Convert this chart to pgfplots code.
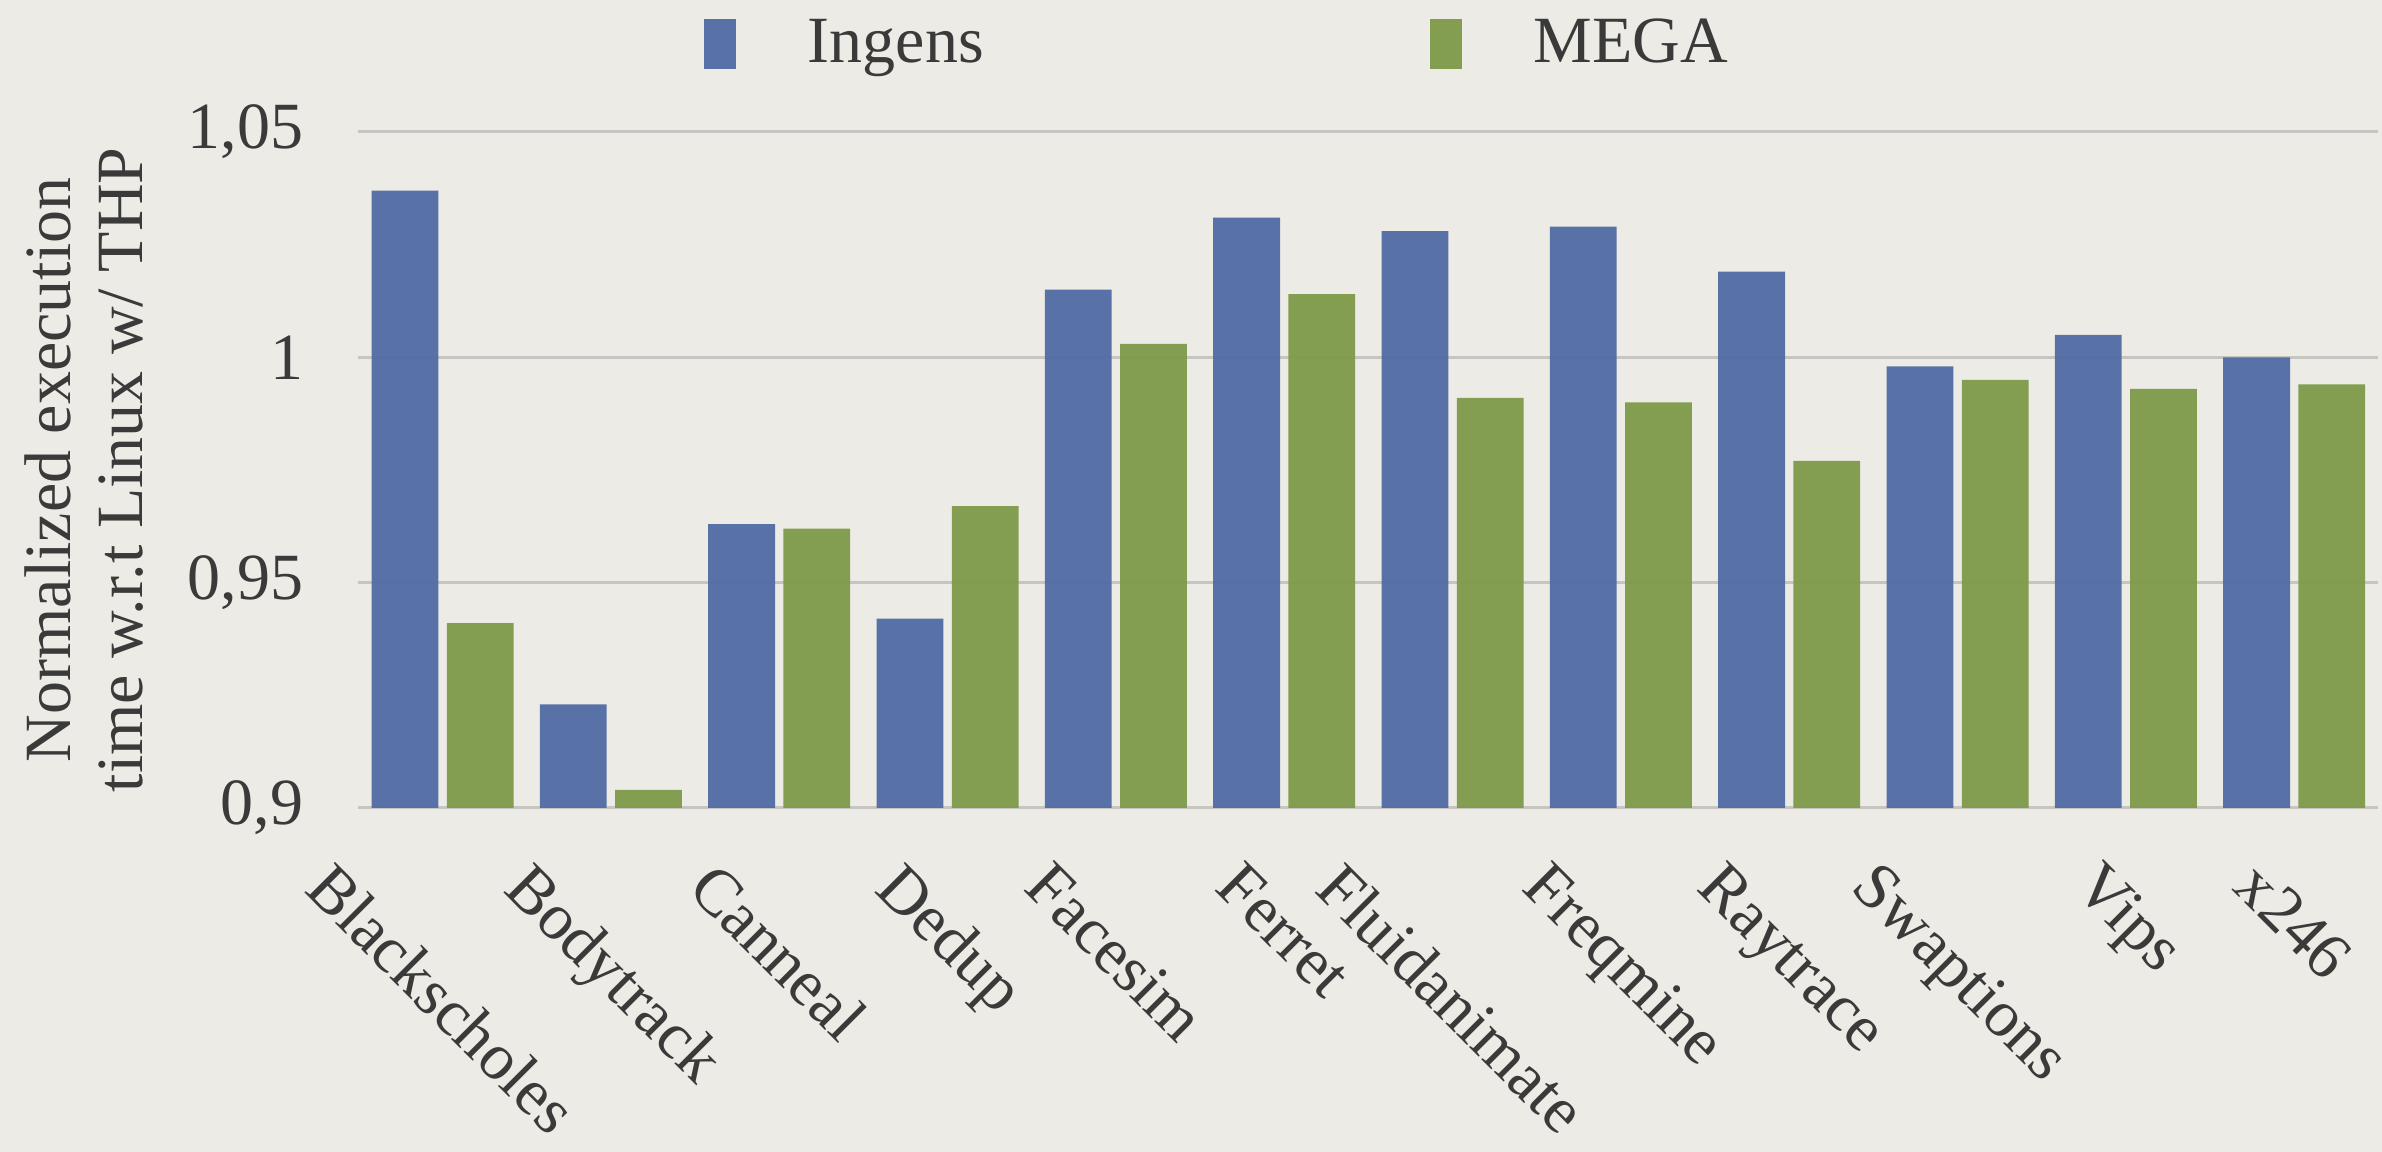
\documentclass[border=0pt]{standalone}
\usepackage{fontspec}
\setmainfont{Liberation Serif}
\usepackage{graphicx}
\usepackage{pgfplots}
\pgfplotsset{compat=1.18}
\definecolor{bg}{HTML}{EDEBE5}
\definecolor{ingens}{HTML}{506CA4}
\definecolor{mega}{HTML}{7E9A48}
\definecolor{gridc}{HTML}{C6C5C2}
\definecolor{txt}{HTML}{3A3A3A}
\newcommand\ff{\fontsize{16.5}{18}\selectfont}
\begin{document}
\begin{tikzpicture}
\fill[bg] (-89.5pt,-86pt) rectangle (506pt,202pt);
\useasboundingbox (-89.5pt,-86pt) rectangle (506pt,202pt);
\begin{axis}[at={(0pt,0pt)}, anchor=south west, scale only axis,
  width=505pt, height=169pt,
  ybar, bar width=16.7pt,
  xmin=-0.5, xmax=11.5, ymin=0.9, ymax=1.05, enlargelimits=false,
  axis line style={draw=none},
  ymajorgrids, grid style={draw=gridc, line width=0.75pt},
  major tick length=0pt,
  ytick={0.9,0.95,1,1.05}, yticklabels={{0,9},{0,95},{1},{1,05}},
  yticklabel style={font=\ff, text=txt, anchor=east, inner sep=0pt, xshift=-13.5pt},
  xtick={0,...,11},
  xticklabels={\rotatebox{-45}{Blackscholes},\rotatebox{-45}{Bodytrack},\rotatebox{-45}{Canneal},\rotatebox{-45}{Dedup},\rotatebox{-45}{Facesim},\rotatebox{-45}{Ferret},\rotatebox{-45}{Fluidanimate},\rotatebox{-45}{Freqmine},\rotatebox{-45}{Raytrace},\rotatebox{-45}{Swaptions},\rotatebox{-45}{Vips},\rotatebox{-45}{x246}},
  xticklabel style={font=\ff, text=txt, anchor=north, inner sep=0pt, yshift=-12.5pt},
  ylabel={Normalized execution\\time w.r.t Linux w/ THP},
  ylabel style={font=\ff, text=txt, align=center, at={(axis description cs:-0.106,0.5)}, anchor=south, inner sep=0pt},
  legend columns=2,
  legend style={at={(axis description cs:0.1708,1)}, anchor=west, yshift=22pt, draw=none, fill=none, inner sep=0pt, font=\ff, text=txt, nodes={inner sep=0pt}, /tikz/every even column/.append style={column sep=111.5pt}},
]
\addplot[fill=ingens, draw=none, fill opacity=0.95, bar shift=-9.3pt,
  legend image code/.code={\fill[ingens] (0pt,-6.25pt) rectangle (8pt,6.25pt); \path (26pt,0pt);}]
  coordinates {(0,1.037) (1,0.923) (2,0.963) (3,0.942) (4,1.015) (5,1.031) (6,1.028) (7,1.029) (8,1.019) (9,0.998) (10,1.005) (11,1.000)};
\addlegendentry{Ingens}
\addplot[fill=mega, draw=none, fill opacity=0.95, bar shift=9.5pt,
  legend image code/.code={\fill[mega] (0pt,-6.25pt) rectangle (8pt,6.25pt); \path (26pt,0pt);}]
  coordinates {(0,0.941) (1,0.904) (2,0.962) (3,0.967) (4,1.003) (5,1.014) (6,0.991) (7,0.990) (8,0.977) (9,0.995) (10,0.993) (11,0.994)};
\addlegendentry{MEGA}
\end{axis}
\end{tikzpicture}
\end{document}
